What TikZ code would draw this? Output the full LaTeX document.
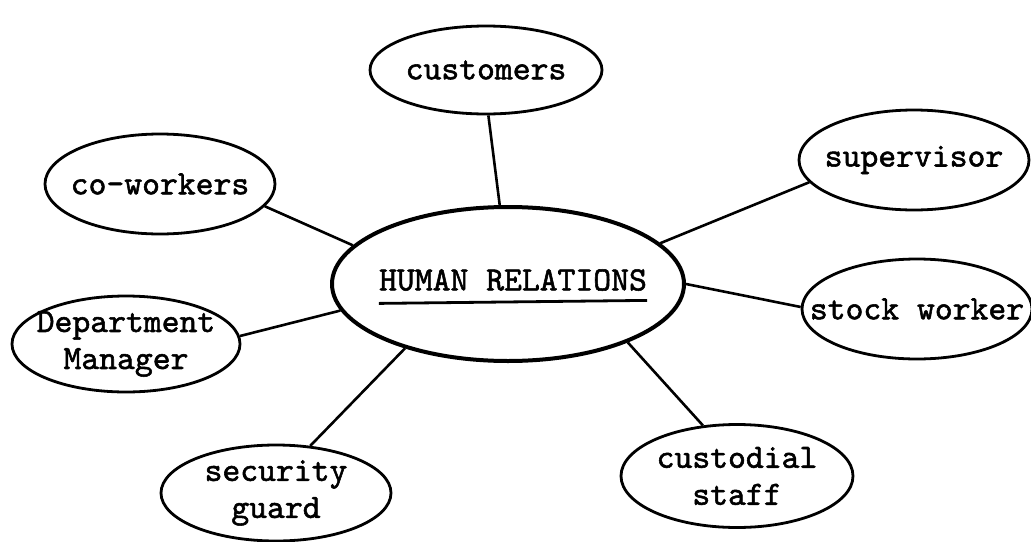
\documentclass[tikz,border=0pt]{standalone}
\usepackage{fontspec}
\newfontfamily\typew[FakeBold=1.6]{lmmono10-regular.otf}
\usetikzlibrary{shapes.geometric}
\begin{document}
\begin{tikzpicture}[x=1pt,y=-1pt,
  oval/.style={ellipse, draw=black, line width=2.8pt, inner sep=-45pt,
    font=\fontsize{34}{37}\selectfont\typew, align=center},
  hub/.style={oval, line width=4pt},
  lbl/.style={font=\fontsize{34}{37}\selectfont\typew, inner sep=0pt},
  link/.style={draw=black, line width=2.6pt}]
\useasboundingbox (0,0) rectangle (1031,541);
\node[hub, minimum width=352pt, minimum height=154pt] (hr) at (508,284) {};
\node[lbl] (hrt) at (513,280) {HUMAN RELATIONS};
\draw[line width=2.8pt] ([yshift=-13pt]hrt.base west) -- ([yshift=-10pt]hrt.base east);
\node[oval, minimum width=232pt, minimum height=88pt] (cu) at (486,70) {customers};
\node[oval, minimum width=230pt, minimum height=100pt] (cw) at (160,184) {co-workers};
\node[oval, minimum width=230pt, minimum height=100pt] (su) at (914,160) {supervisor};
\node[oval, minimum width=230pt, minimum height=100pt] (sw) at (917,309) {stock worker};
\node[oval, minimum width=228pt, minimum height=96pt] (dm) at (126,344) {Department\\Manager};
\node[oval, minimum width=230pt, minimum height=96pt] (sg) at (276,493) {security\\guard};
\node[oval, minimum width=232pt, minimum height=103pt] (cs) at (737,476) {custodial\\staff};
\draw[link] (cu.-87) -- (hr.96);
\draw[link] (cw.-12.6) -- (hr.166.4);
\draw[link] (su.-168.3) -- (hr.15.1);
\draw[link] (sw.179) -- (hr.-0.6);
\draw[link] (dm.4.5) -- (hr.189.6);
\draw[link] (sg.54) -- (hr.212);
\draw[link] (cs.124) -- (hr.-26.8);
\end{tikzpicture}
\end{document}
